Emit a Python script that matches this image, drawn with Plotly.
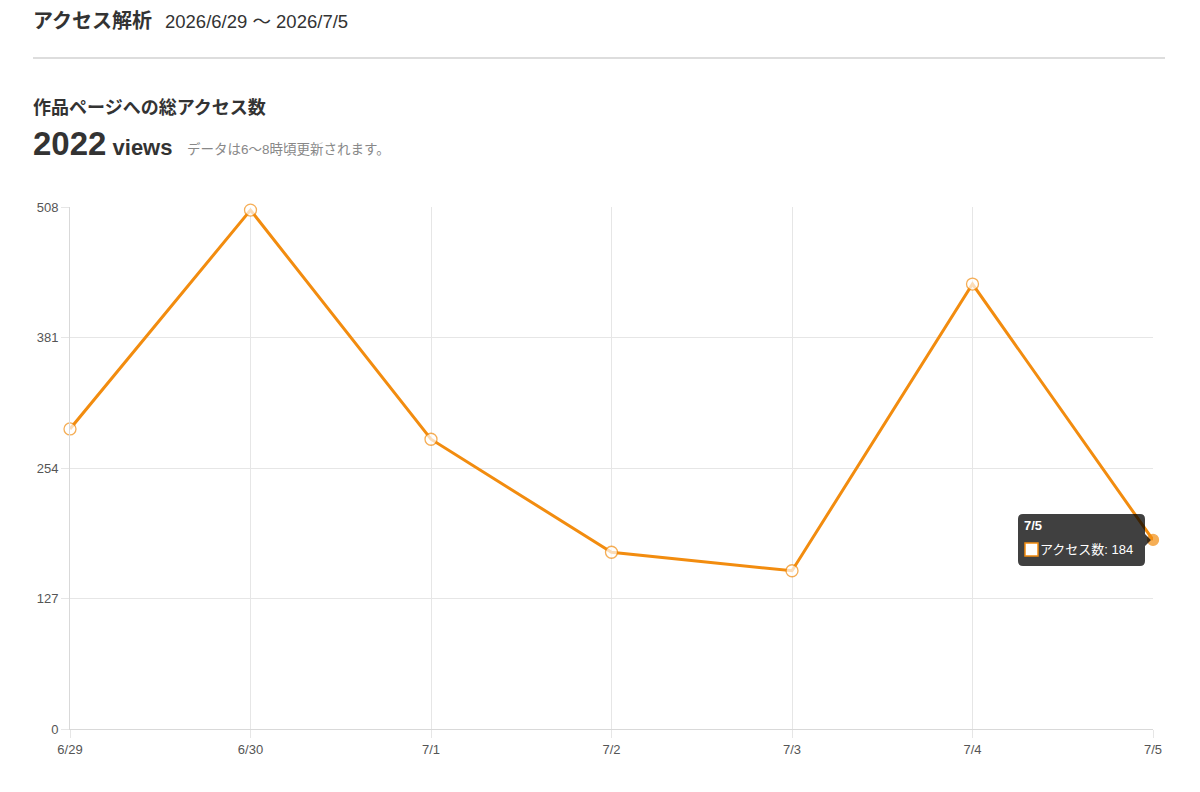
import plotly.graph_objects as go

# daily access counts, 2026/6/29 - 2026/7/5
dates = ["6/29", "6/30", "7/1", "7/2", "7/3", "7/4", "7/5"]
views = [292, 505, 282, 172, 154, 433, 184]
y_ticks = [0, 127, 254, 381, 508]

total = sum(views)
orange = "#f28c0f"
grid = "#e6e6e6"
font_jp = "Helvetica Neue, Helvetica, Liberation Sans, Noto Sans CJK JP, sans-serif"

# page body has an 8px margin, so the figure is a bit smaller than the window
PAD = 8
W, H = 1200 - 2 * PAD, 792 - 2 * PAD
margin = dict(l=70 - PAD, r=W - (1153 - PAD), t=207 - PAD, b=H - (729 - PAD))
plot_w = W - margin["l"] - margin["r"]
plot_h = H - margin["t"] - margin["b"]


def px(x, y):
    # window pixel -> paper coords
    return (x - PAD - margin["l"]) / plot_w, (H - margin["b"] - (y - PAD)) / plot_h


idx = list(range(len(dates)))
hover = len(dates) - 1

fig = go.Figure()
fig.add_trace(
    go.Scatter(
        x=idx,
        y=views,
        mode="lines+markers",
        line=dict(color=orange, width=3),
        marker=dict(
            size=[12] * hover + [11],
            color=["white"] * hover + [orange],
            line=dict(color=orange, width=1.3),
        ),
        hoverinfo="skip",
        cliponaxis=False,
    )
)

# tooltip box (pixel sized, anchored at the hovered point)
r = 5
x0, x1, y0, y1 = -135, -8, -26, 26
path = (
    f"M {x0 + r},{y1} L {x1 - r},{y1} Q {x1},{y1} {x1},{y1 - r} "
    f"L {x1},6 L {x1 + 6},0 L {x1},-6 "
    f"L {x1},{y0 + r} Q {x1},{y0} {x1 - r},{y0} "
    f"L {x0 + r},{y0} Q {x0},{y0} {x0},{y0 + r} "
    f"L {x0},{y1 - r} Q {x0},{y1} {x0 + r},{y1} Z"
)
fig.add_shape(
    type="path",
    xref="x", yref="y",
    xsizemode="pixel", ysizemode="pixel",
    xanchor=hover, yanchor=views[hover],
    path=path,
    fillcolor="rgba(0,0,0,0.75)",
    line=dict(width=0),
    layer="above",
)
fig.add_shape(
    type="rect",
    xref="x", yref="y",
    xsizemode="pixel", ysizemode="pixel",
    xanchor=hover, yanchor=views[hover],
    x0=-128, x1=-115, y0=-16, y1=-3,
    fillcolor="white",
    line=dict(color=orange, width=1.5),
    layer="above",
)

annotations = [
    dict(
        x=hover, y=views[hover], xref="x", yref="y",
        text=f"<b>{dates[hover]}</b>",
        xanchor="left", yanchor="middle",
        xshift=-131, yshift=14,
        font=dict(family=font_jp, size=13, color="white"),
        showarrow=False,
    ),
    dict(
        x=hover, y=views[hover], xref="x", yref="y",
        text=f"アクセス数: {views[hover]}",
        xanchor="left", yanchor="middle",
        xshift=-115, yshift=-10,
        font=dict(family=font_jp, size=13, color="white"),
        showarrow=False,
    ),
]

# page header texts
header = [
    (31, 21, "<b>アクセス解析</b>", 20, "#333"),
    (163, 22, "2026/6/29 〜 2026/7/5", 18.5, "#333"),
    (31, 108, "<b>作品ページへの総アクセス数</b>", 18, "#333"),
    (31, 143, f"<b><span style='font-size:33px'>{total}</span> views</b>", 22, "#333"),
    (185, 149, "データは6〜8時頃更新されます。", 13.5, "#888"),
]
for x, y, text, size, colour in header:
    ax, ay = px(x, y)
    annotations.append(
        dict(
            x=ax, y=ay, xref="paper", yref="paper",
            text=text, xanchor="left", yanchor="middle",
            font=dict(family=font_jp, size=size, color=colour),
            showarrow=False,
        )
    )

lx0, ly = px(33, 58)
lx1, _ = px(1165, 58)
fig.add_shape(
    type="line", xref="paper", yref="paper",
    x0=lx0, x1=lx1, y0=ly, y1=ly,
    line=dict(color="#dddddd", width=2),
)

fig.update_layout(
    width=W,
    height=H,
    margin=margin,
    plot_bgcolor="white",
    paper_bgcolor="white",
    showlegend=False,
    annotations=annotations,
    font=dict(family=font_jp, size=13, color="#555"),
)
fig.update_xaxes(
    range=[0, len(dates) - 1],
    tickvals=idx,
    ticktext=dates,
    showgrid=True,
    gridcolor=grid,
    gridwidth=1,
    zeroline=False,
    showline=True,
    linecolor="#d9d9d9",
    ticks="outside",
    ticklen=8,
    tickcolor=grid,
    tickfont=dict(size=13, color="#555"),
)
fig.update_yaxes(
    range=[0, max(y_ticks)],
    tickvals=y_ticks,
    showgrid=True,
    gridcolor=grid,
    gridwidth=1,
    zeroline=False,
    showline=True,
    linecolor="#d9d9d9",
    ticks="outside",
    ticklen=8,
    tickcolor=grid,
    tickfont=dict(size=13, color="#555"),
)

fig.write_html("out.html")
